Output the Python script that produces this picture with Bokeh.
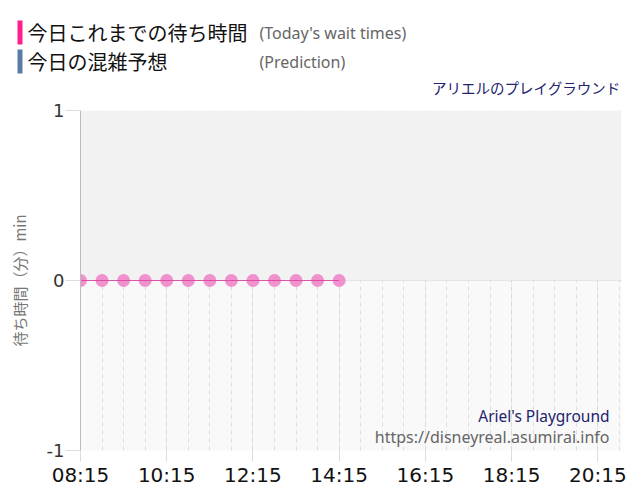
from bokeh.plotting import figure
from bokeh.layouts import column, row
from bokeh.models import Label, BoxAnnotation, FixedTicker
from bokeh.core.properties import value
from bokeh.embed import file_html
from bokeh.resources import INLINE

# ---- data ----
times = ["08:15", "08:45", "09:15", "09:45", "10:15", "10:45", "11:15",
         "11:45", "12:15", "12:45", "13:15", "13:45", "14:15"]
waits = [0, 0, 0, 0, 0, 0, 0, 0, 0, 0, 0, 0, 0]
x_tick_labels = ["08:15", "10:15", "12:15", "14:15", "16:15", "18:15", "20:15"]
y_ticks = [-1, 0, 1]
y_tick_labels = ["-1", "0", "1"]
legend_jp = ["今日これまでの待ち時間", "今日の混雑予想"]
legend_en = ["(Today's wait times)", "(Prediction)"]
legend_colors = ["#ff1f8f", "#5a7aa8"]
title_text = "アリエルのプレイグラウンド"
y_label = "待ち時間（分）min"
credit1 = "Ariel's Playground"
credit2 = "https://disneyreal.asumirai.info"


def hours(t):
    hh, mm = t.split(":")
    return int(hh) + int(mm) / 60.0


xs = [hours(t) for t in times]
major = [hours(t) for t in x_tick_labels]
minor = [major[0] + 0.5 * i for i in range(26)]

JP = "Noto Sans CJK JP"
LAT = "Noto Sans"
W = 632
TOP_H = 97

# ---- header figure (legend + title) ----
hdr = figure(width=W, height=TOP_H, x_range=(0, W), y_range=(TOP_H, 0),
             x_axis_type=None, y_axis_type=None, output_backend="svg",
             toolbar_location=None, min_border=0)
hdr.outline_line_color = None
hdr.grid.visible = False
hdr.background_fill_color = "white"
hdr.border_fill_color = "white"

row_y = [32, 61]
hdr.quad(left=[17, 17], right=[22, 22], top=[y - 12 for y in row_y],
         bottom=[y + 12 for y in row_y], fill_color=legend_colors,
         line_color=None)
hdr.text(x=[27, 27], y=row_y, text=legend_jp, text_font=value(JP),
         text_font_size="20px", text_color="#111111", text_baseline="middle")
hdr.text(x=[259, 259], y=row_y, text=legend_en, text_font=value(LAT),
         text_font_size="16px", text_color="#666666", text_baseline="middle")
hdr.text(x=[620], y=[87], text=[title_text], text_font=value(JP),
         text_font_size="14.5px", text_color="#23236e", text_align="right",
         text_baseline="middle")

# ---- main chart ----
p = figure(width=W, height=395, x_range=(8.25, 20.8), y_range=(-1, 1),
           output_backend="svg", toolbar_location=None,
           min_border_left=80, min_border_right=11, min_border_top=13,
           min_border_bottom=42)
p.outline_line_color = None
p.background_fill_color = "#f9f9f9"
p.border_fill_color = "white"

p.add_layout(BoxAnnotation(bottom=0, top=1, fill_color="#f2f2f2", fill_alpha=1,
                           line_color=None, level="underlay"))

# x axis
p.xaxis.ticker = FixedTicker(ticks=major, minor_ticks=minor)
p.xaxis.major_label_overrides = {m: l for m, l in zip(major, x_tick_labels)}
p.xaxis.axis_line_color = None
p.xaxis.major_tick_out = 11
p.xaxis.major_tick_in = 0
p.xaxis.major_tick_line_color = "#dddddd"
p.xaxis.minor_tick_line_color = None
p.xaxis.major_label_text_font = "DejaVu Sans"
p.xaxis.major_label_text_font_size = "20px"
p.xaxis.major_label_text_color = "#111111"
p.xaxis.major_label_standoff = 1

# y axis
p.yaxis.ticker = FixedTicker(ticks=y_ticks)
p.yaxis.major_label_overrides = {t: l for t, l in zip(y_ticks, y_tick_labels)}
p.yaxis.axis_line_color = "#bbbbbb"
p.yaxis.major_tick_out = 15
p.yaxis.major_tick_in = 0
p.yaxis.major_tick_line_color = "#dddddd"
p.yaxis.minor_tick_line_color = None
p.yaxis.major_label_text_font = "DejaVu Sans"
p.yaxis.major_label_text_font_size = "18px"
p.yaxis.major_label_text_color = "#333333"
p.yaxis.major_label_standoff = 1
p.yaxis.axis_label = y_label
p.yaxis.axis_label_text_font = JP
p.yaxis.axis_label_text_font_size = "15px"
p.yaxis.axis_label_text_font_style = "normal"
p.yaxis.axis_label_text_color = "#777777"
p.yaxis.axis_label_standoff = 14

# grids
p.xgrid.grid_line_color = "#cfcfcf"
p.xgrid.grid_line_dash = "1 2"
p.xgrid.minor_grid_line_color = "#dddddd"
p.xgrid.minor_grid_line_dash = "4 4"
p.ygrid.grid_line_color = "#b8b8b8"
p.ygrid.grid_line_dash = "1 1"

# data
p.scatter(xs, waits, size=13, fill_color="#ef80c6", fill_alpha=0.85,
          line_color=None)
p.line(xs, waits, line_color="#d9479f", line_width=1.2, line_alpha=0.9)

# credits inside the plot area
p.add_layout(Label(x=529, y=35, x_units="screen", y_units="screen",
                   text=credit1, text_font=LAT, text_font_size="15.5px",
                   text_color="#23236e", text_align="right",
                   text_baseline="middle"))
p.add_layout(Label(x=529, y=14, x_units="screen", y_units="screen",
                   text=credit2, text_font=LAT, text_font_size="16px",
                   text_color="#666666", text_align="right",
                   text_baseline="middle"))

layout = column(row(hdr), p, spacing=0)
open("out.html", "w").write(file_html(layout, INLINE))
